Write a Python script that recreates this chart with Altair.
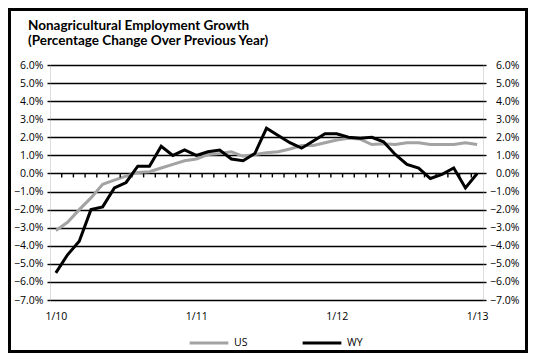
import altair as alt
import pandas as pd

months = list(range(37))
us = [-3.15, -2.7, -2.0, -1.35, -0.6, -0.37, -0.15, 0.05, 0.1, 0.3, 0.5, 0.7,
      0.8, 1.05, 1.1, 1.2, 0.95, 1.05, 1.15, 1.2, 1.35, 1.55, 1.55, 1.7,
      1.85, 1.95, 1.9, 1.6, 1.65, 1.6, 1.7, 1.7, 1.6, 1.6, 1.6, 1.7, 1.6]
wy = [-5.5, -4.5, -3.75, -2.0, -1.85, -0.8, -0.5, 0.4, 0.4, 1.5, 1.0, 1.3,
      1.0, 1.2, 1.3, 0.8, 0.7, 1.1, 2.5, 2.1, 1.7, 1.4, 1.8, 2.2,
      2.2, 2.0, 1.95, 2.0, 1.75, 1.05, 0.5, 0.3, -0.28, -0.05, 0.3, -0.8, 0.0]
series_names = ["US", "WY"]
series_colors = ["#a3a3a3", "#000000"]
tick_values = [0, 12, 24, 36]
tick_labels = ["1/10", "1/11", "1/12", "1/13"]
y_ticks = list(range(-7, 7))
title_lines = ["Nonagricultural Employment Growth", "(Percentage Change Over Previous Year)"]

df = pd.DataFrame({
    "month": months * 2,
    "value": us + wy,
    "series": ["US"] * len(us) + ["WY"] * len(wy),
})
ticks_df = pd.DataFrame({"month": [m + 0.5 for m in months[:-1]], "y0": 0.0, "y1": -0.22})

label_expr = " : ".join(
    f"datum.value == {v} ? '{l}'" for v, l in zip(tick_values, tick_labels)
) + " : ''"

FONT = "Open Sans"
xscale = alt.Scale(domain=[-0.5, 36.5], nice=False, zero=False)
yscale = alt.Scale(domain=[-7, 6], nice=False)

x_axis = alt.Axis(values=tick_values, labelExpr=label_expr, grid=False,
                  ticks=False, domain=False, labelPadding=11,
                  labelFont=FONT, labelFontSize=10.5, labelColor="#000")


def x_enc():
    return alt.X("month:Q", scale=xscale, title=None, axis=x_axis)


lines = alt.Chart(df).mark_line(strokeWidth=3).encode(
    x=x_enc(),
    y=alt.Y("value:Q", scale=yscale, title=None,
            axis=alt.Axis(orient="left", values=y_ticks, grid=True, gridColor="#000",
                          gridWidth=1.4, gridOpacity=1, domain=False, tickSize=3,
                          tickColor="#000", tickWidth=1.4, labelPadding=4,
                          labelExpr="format(datum.value, '.1f') + '%'",
                          labelFont=FONT, labelFontSize=10.5, labelColor="#000")),
    color=alt.Color("series:N", scale=alt.Scale(domain=series_names, range=series_colors),
                    legend=alt.Legend(title=None, orient="none", direction="horizontal",
                                      legendX=138, legendY=257, symbolType="stroke",
                                      symbolSize=1500, symbolStrokeWidth=3,
                                      columnPadding=48, labelOffset=4, padding=0,
                                      labelFont=FONT, labelFontSize=10.5, labelColor="#000")),
)

right_axis = alt.Chart(df).mark_line(opacity=0).encode(
    x=x_enc(),
    y=alt.Y("value:Q", scale=yscale, title=None,
            axis=alt.Axis(orient="right", values=y_ticks, grid=False, domain=False,
                          tickSize=3, tickColor="#000", tickWidth=1.4,
                          labelAlign="right", labelPadding=33,
                          labelExpr="format(datum.value, '.1f') + '%'",
                          labelFont=FONT, labelFontSize=10.5, labelColor="#000")),
)

zero_ticks = alt.Chart(ticks_df).mark_rule(color="#000", strokeWidth=1.4).encode(
    x=x_enc(),
    y=alt.Y("y0:Q", scale=yscale, axis=None),
    y2="y1:Q",
)

frame = alt.Chart(pd.DataFrame({"a": [0]})).mark_rect(
    filled=False, stroke="#000", strokeWidth=3
).encode(
    x=alt.value(-40.5), x2=alt.value(476.5), y=alt.value(-55.5), y2=alt.value(286.5)
)

chart = alt.layer(lines, right_axis, zero_ticks, frame).resolve_axis(
    y="independent"
).resolve_scale(y="shared").properties(
    width=433, height=235,
    autosize=alt.AutoSizeParams(type="none"),
    padding={"left": 42, "top": 57, "right": 45, "bottom": 53},
    title=alt.Title(title_lines, anchor="start", frame="group", dx=-22, dy=39, offset=0,
                    font="Lato", fontSize=13.5, fontWeight="bold", color="#000",
                    lineHeight=14.5),
).configure_view(stroke="#000", strokeWidth=1.5).configure(background="white")

chart.save("out.html", embed_options={"renderer": "svg", "actions": False})
